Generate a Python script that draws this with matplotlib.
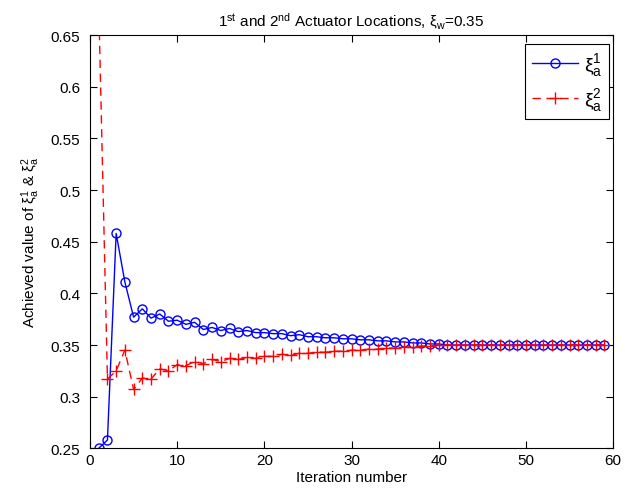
import numpy as np
import matplotlib
matplotlib.use('Agg')
import matplotlib.pyplot as plt

plt.rcParams['font.family'] = ['Liberation Sans', 'DejaVu Sans']
plt.rcParams['mathtext.fontset'] = 'custom'
plt.rcParams['mathtext.rm'] = 'Liberation Sans'
plt.rcParams['mathtext.it'] = 'Liberation Sans'

# achieved damping ratio per iteration
iterations = np.arange(1, 60)
xi_a1 = [0.250, 0.258, 0.458, 0.411, 0.377, 0.385, 0.376, 0.380, 0.373, 0.374,
         0.370, 0.372, 0.365, 0.367, 0.364, 0.366, 0.363, 0.364, 0.362, 0.362,
         0.361, 0.361, 0.359, 0.360, 0.358, 0.358, 0.357, 0.357, 0.356, 0.356,
         0.355, 0.355, 0.354, 0.354, 0.353, 0.353, 0.352, 0.352, 0.351, 0.351]
xi_a2 = [0.680, 0.317, 0.325, 0.345, 0.307, 0.318, 0.317, 0.327, 0.325, 0.331,
         0.330, 0.334, 0.332, 0.336, 0.334, 0.337, 0.336, 0.338, 0.337, 0.339,
         0.339, 0.341, 0.340, 0.342, 0.342, 0.343, 0.343, 0.344, 0.344, 0.345,
         0.345, 0.346, 0.346, 0.347, 0.347, 0.348, 0.348, 0.349, 0.349, 0.350]
xi_a1 = xi_a1 + [0.350] * (len(iterations) - len(xi_a1))
xi_a2 = xi_a2 + [0.350] * (len(iterations) - len(xi_a2))

fig = plt.figure(figsize=(6.25, 5.02), dpi=100)
ax = fig.add_axes([0.144, 0.105, 0.837, 0.823])

ax.plot(iterations, xi_a1, '-o', color='blue', lw=1.0, markersize=6.5,
        markerfacecolor='none', markeredgewidth=1.0, label=r'$\mathrm{\xi}_{\rm a}^{1}$')
ax.plot(iterations, xi_a2, '+', linestyle=(0, (6, 4)), color='red', lw=1.0,
        markersize=8, markeredgewidth=1.0, label=r'$\mathrm{\xi}_{\rm a}^{2}$')

ax.set_xlim(0, 60)
ax.set_ylim(0.25, 0.65)
ax.set_xticks(np.arange(0, 61, 10))
yt = np.arange(0.25, 0.651, 0.05)
ax.set_yticks(yt)
ax.set_yticklabels([('%.2f' % v).rstrip('0') for v in yt])
ax.tick_params(direction='in', top=True, right=True, labelsize=11, length=5)
ax.tick_params(axis='y', pad=7)

ax.set_xlabel('Iteration number', fontsize=11, labelpad=2)
ax.set_ylabel(r'Achieved value of $\mathrm{\xi}_{\rm a}^{1}$ & $\mathrm{\xi}_{\rm a}^{2}$',
              fontsize=11, labelpad=6)
ax.set_title(r'1$^{\rm st}$ and 2$^{\rm nd}$ Actuator Locations, $\mathrm{\xi}_{\rm w}$=0.35',
             fontsize=11, pad=7)

leg = ax.legend(loc='upper right', bbox_to_anchor=(0.993, 0.978), fontsize=14,
                fancybox=False, framealpha=1, edgecolor='black',
                handlelength=2.4, borderaxespad=0.0, handletextpad=0.3,
                borderpad=0.35, labelspacing=0.4)
leg.get_frame().set_linewidth(0.8)

fig.savefig('out.png', dpi=100)
